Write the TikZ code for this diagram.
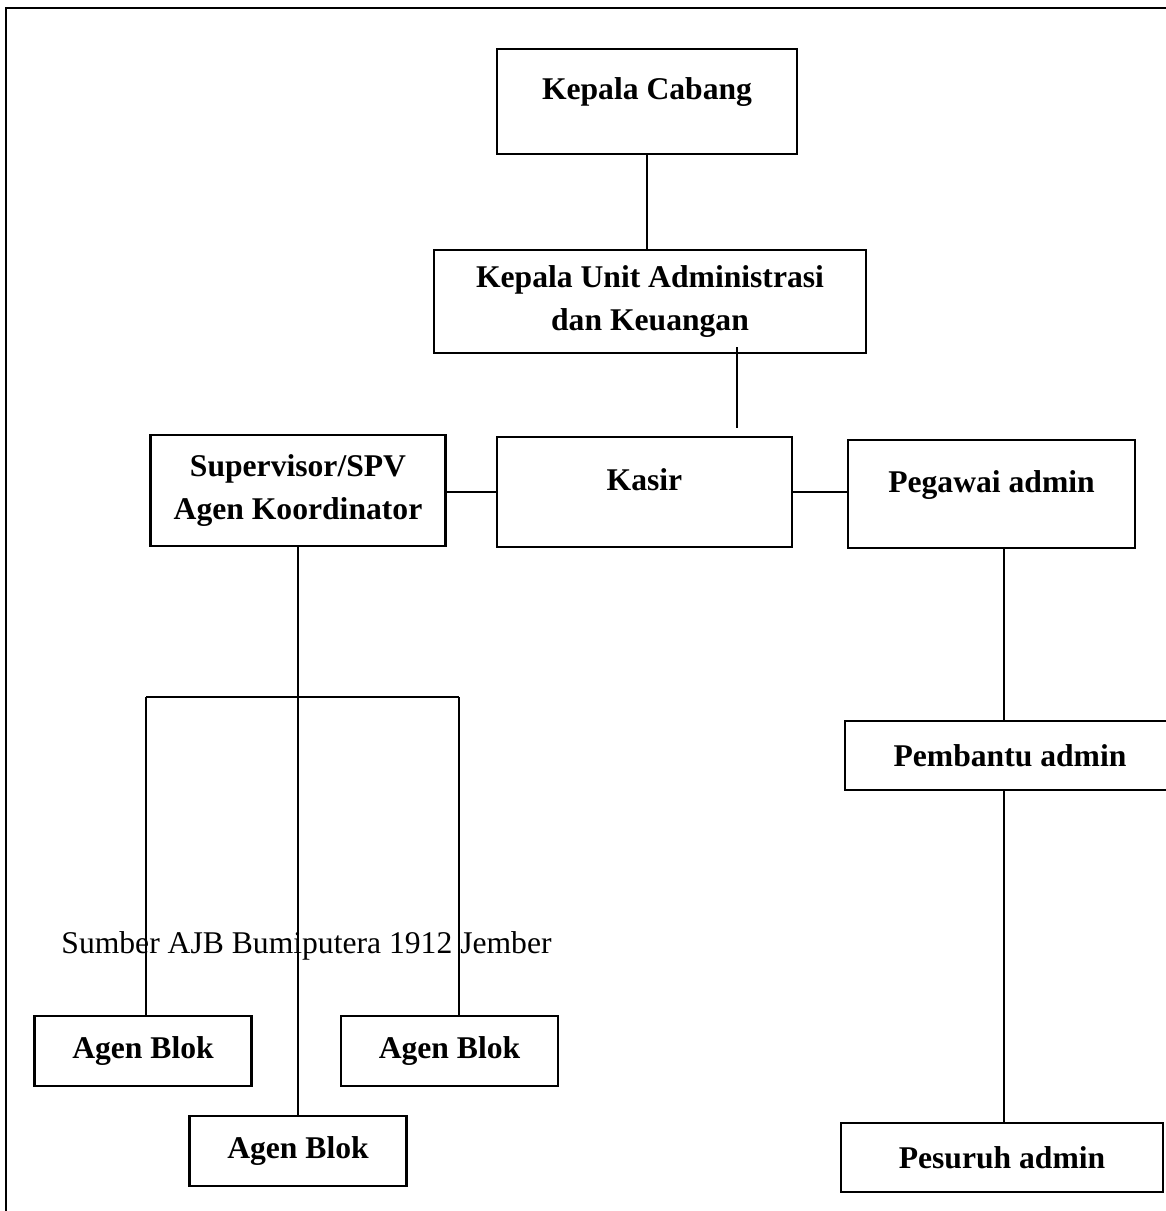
\documentclass[tikz,border=0pt]{standalone}
\usepackage{fontspec}
\setmainfont{Liberation Serif}

\begin{document}
\begin{tikzpicture}[x=0.02cm,y=-0.02cm,
 font=\fontsize{18}{24}\selectfont,
 post/.style={draw,line width=1.4pt,align=center,inner sep=0pt,
   font=\fontsize{18}{24}\selectfont\bfseries},
 high/.style={text height=0.7em,text depth=0.9em},
 agen/.style={post,minimum width=4.34cm,minimum height=1.4cm},
 link/.style={line width=1.4pt}]

\useasboundingbox (0,0) rectangle (1166,1211);
\clip (0,0) rectangle (1166,1211);

% page frame, only top and left edges show
\draw[line width=1.1pt] (6,1211) -- (6,8) -- (1166,8);

% upper part of the chart
\node[post,high,minimum width=6cm,minimum height=2.1cm] (kc) at (647,101.5) {Kepala Cabang};
\node[post,minimum width=8.64cm,minimum height=2.06cm] (kuak) at (650,301.5)
  {Kepala Unit Administrasi\\dan Keuangan};
\node[post,minimum width=5.9cm,minimum height=2.22cm] (spv) at (298,490.5)
  {Supervisor/SPV\\Agen Koordinator};
\node[post,high,minimum width=5.9cm,minimum height=2.2cm] (kasir) at (644.5,492) {Kasir};
\node[post,high,minimum width=5.74cm,minimum height=2.16cm] (pegawai) at (991.5,494) {Pegawai admin};

% right column
\node[post,minimum width=6.6cm,minimum height=1.38cm] (pembantu) at (1010,755.5) {Pembantu admin};
\node[post,minimum width=6.44cm,minimum height=1.38cm] (pesuruh) at (1002,1157.5) {Pesuruh admin};

% agents under the supervisor
\node[agen] (agenA) at (143,1051) {Agen Blok};
\node[agen] (agenB) at (298,1151) {Agen Blok};
\node[agen] (agenC) at (449.5,1051) {Agen Blok};

\node (source) at (306.5,946) {Sumber AJB Bumiputera 1912 Jember};

\coordinate (kuakTap) at (737,347);
\coordinate (kasirTap) at (737,428);
\coordinate (spine) at (1004,0);
\coordinate (busL) at (146,697);
\coordinate (busR) at (459,697);

\draw[link] (kc.south) -- (kc.south |- kuak.north);
\draw[link] (kuakTap) -- (kasirTap);
\draw[link] (kasir.west) -- (kasir.west -| spv.east);
\draw[link] (kasir.east) -- (kasir.east -| pegawai.west);
\draw[link] (pegawai.south -| spine) -- (pembantu.north -| spine);
\draw[link] (pembantu.south -| spine) -- (pesuruh.north -| spine);
\draw[link] (spv.south) -- (agenB.north);
\draw[link] (busL) -- (busR);
\draw[link] (busL) -- (busL |- agenA.north);
\draw[link] (busR) -- (busR |- agenC.north);
\end{tikzpicture}
\end{document}
